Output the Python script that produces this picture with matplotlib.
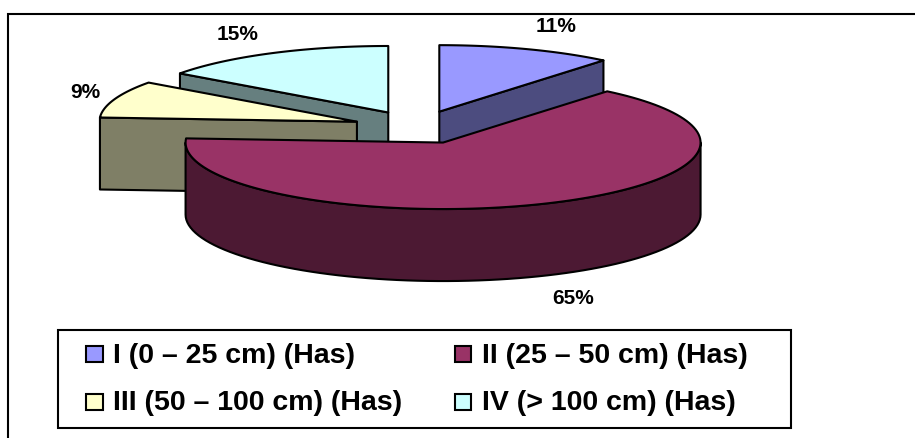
import numpy as np
import matplotlib
matplotlib.use("Agg")
import matplotlib.pyplot as plt
from matplotlib.patches import Polygon, Rectangle

# Area share per depth class, in percent
categories = ["I (0 – 25 cm) (Has)", "II (25 – 50 cm) (Has)",
              "III (50 – 100 cm) (Has)", "IV (> 100 cm) (Has)"]
shares = [11, 65, 9, 15]
top_colors = ["#9999FF", "#993366", "#FFFFCC", "#CCFFFF"]
side_colors = ["#4C4C7F", "#4C1933", "#7F7F66", "#667F7F"]

# Pie projection, in pixel units of the canvas
CX, CY = 417.5, 127.3
RX, RY = 257.5, 66.5
DEPTH = 72.0
EXPLODE = 0.25
LW = 1.5

plt.rcParams["font.family"] = ["Liberation Sans", "DejaVu Sans"]
fig = plt.figure(figsize=(9.15, 4.38), dpi=100)
ax = fig.add_axes([0, 0, 1, 1])
ax.set_xlim(0, 915)
ax.set_ylim(438, 0)
ax.axis("off")

# Chart frame runs off the right and bottom of the canvas
ax.plot([8, 8, 915], [438, 14, 14], color="black", lw=1.5, zorder=0,
        solid_joinstyle="miter")


def ring(t, cx, cy):
    """Point on the pie's ellipse, t in radians clockwise from 12 o'clock."""
    return np.column_stack([cx + RX * np.sin(t), cy - RY * np.cos(t)])


def draw_slice(t0, t1, color_top, color_side):
    mid = (t0 + t1) / 2
    cx = CX + EXPLODE * RX * np.sin(mid)
    cy = CY - EXPLODE * RY * np.cos(mid)
    apex = np.array([cx, cy])
    drop = np.array([0, DEPTH])
    style = dict(edgecolor="black", lw=LW, joinstyle="round")

    # Radial walls that face the viewer
    for t, visible in ((t0, np.sin(t0) < -1e-6), (t1, np.sin(t1) > 1e-6)):
        if visible:
            rim = ring(np.array([t]), cx, cy)[0]
            ax.add_patch(Polygon([apex, rim, rim + drop, apex + drop],
                                 facecolor=color_side, **style))

    # Outer wall along the front half of the ellipse
    lo, hi = max(t0, np.pi / 2), min(t1, 3 * np.pi / 2)
    if lo < hi:
        arc = ring(np.linspace(lo, hi, 80), cx, cy)
        ax.add_patch(Polygon(np.vstack([arc, (arc + drop)[::-1]]),
                             facecolor=color_side, **style))

    # Top face
    arc = ring(np.linspace(t0, t1, 120), cx, cy)
    ax.add_patch(Polygon(np.vstack([apex, arc]), facecolor=color_top, **style))


edges = np.radians(np.cumsum([0] + shares) * 3.6)
for i in (3, 0, 2, 1):  # back to front
    draw_slice(edges[i], edges[i + 1], top_colors[i], side_colors[i])

# Percentage labels
label_pos = [(556, 26), (573, 298), (85, 92), (238, 34)]
for share, (x, y) in zip(shares, label_pos):
    ax.text(x, y, f"{share}%", ha="center", va="center",
            fontsize=15, fontweight="bold", color="black")

# Legend box
ax.add_patch(Rectangle((58, 330), 733, 98, facecolor="white",
                       edgecolor="black", lw=1.5))
key_x = [86, 454.5]
key_y = [354, 401.5]
slots = [(0, 0), (1, 0), (0, 1), (1, 1)]
for name, color, (col, row) in zip(categories, top_colors, slots):
    ax.add_patch(Rectangle((key_x[col], key_y[row] - 8), 16.5, 16,
                           facecolor=color, edgecolor="black", lw=1.5))
    ax.text(key_x[col] + 27, key_y[row] + 2, name, ha="left", va="center",
            fontsize=20.5, fontweight="bold", color="black")

fig.savefig("out.png", dpi=100)
